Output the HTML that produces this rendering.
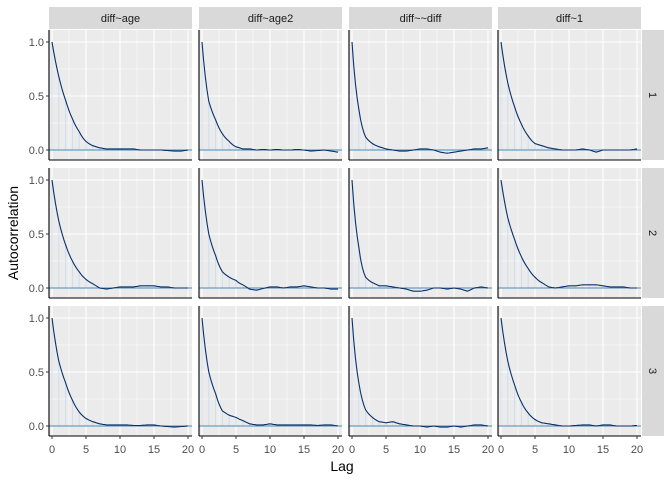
<!DOCTYPE html>
<html><head><meta charset="utf-8"><style>
body{margin:0;background:#fff}
svg{display:block;font-family:"Liberation Sans",Arial,sans-serif}
</style></head><body>
<svg id="s" width="672" height="480" xmlns="http://www.w3.org/2000/svg"></svg>
<script>
const s=document.getElementById('s');
let h='';
const px=[49,199,349,498], pw=143;
const py=[30,168,306], ph=130;
const cols=['diff~age','diff~age2','diff~~diff','diff~1'];
const data=[
[[1,.68,.46,.29,.17,.08,.04,.02,.01,.01,.01,.01,.01,0,0,0,0,-.005,-.01,-.01,0],
 [1,.45,.28,.15,.08,.03,.01,.01,0,.005,0,.005,0,0,.005,0,-.01,-.005,0,-.01,-.02],
 [1,.38,.12,.06,.03,.01,0,-.01,-.01,0,.01,.01,0,-.02,-.03,-.02,-.01,0,.01,.01,.02],
 [1,.62,.4,.24,.13,.06,.04,.02,.01,0,0,0,.01,0,-.02,0,0,0,0,0,.01]],
[[1,.62,.4,.25,.15,.08,.04,0,-.01,0,.01,.01,.01,.02,.02,.02,.01,.01,0,0,0],
 [1,.5,.3,.15,.1,.07,.03,-.01,-.02,-.005,.01,.01,0,.01,.01,.02,.01,0,0,-.01,-.01],
 [1,.38,.1,.05,.02,.02,.01,0,-.01,-.03,-.03,-.02,0,0,-.01,0,-.01,-.03,0,.01,0],
 [1,.65,.45,.29,.18,.1,.05,.01,0,.01,.02,.02,.03,.03,.03,.02,.01,.01,.01,0,0]],
[[1,.6,.4,.24,.13,.07,.04,.02,.01,.01,.01,.01,.005,.005,.01,.01,0,-.005,-.01,-.005,0],
 [1,.5,.3,.14,.1,.08,.05,.02,.01,.01,.02,.01,.01,.01,.01,.01,.01,.005,.01,.01,0],
 [1,.4,.15,.08,.04,.03,.04,.02,.01,0,0,-.01,0,-.01,-.01,0,-.01,0,.01,.01,0],
 [1,.6,.38,.22,.12,.06,.03,.02,.01,0,0,.005,.01,.01,0,.01,.01,0,0,0,.005]]];
const X=(c,l)=>px[c]+3+l*6.8;
function Y(r,v){return py[r]+12+(1-v)*108;}
for(let c=0;c<4;c++){
 h+=`<rect x="${px[c]}" y="7" width="${pw}" height="22" fill="#D9D9D9"/>`;
 h+=`<text x="${px[c]+pw/2}" y="22" font-size="11" fill="#1A1A1A" text-anchor="middle">${cols[c]}</text>`;
 for(const l of [0,5,10,15,20]) h+=`<text x="${X(c,l)}" y="453" font-size="11" fill="#4D4D4D" text-anchor="middle">${l}</text>`;
 for(let r=0;r<3;r++){
  const x0=px[c],y0=py[r];
  h+=`<rect x="${x0}" y="${y0}" width="${pw}" height="${ph}" fill="#EBEBEB"/>`;
  for(const v of [.25,.75]) h+=`<line x1="${x0}" x2="${x0+pw}" y1="${Y(r,v)}" y2="${Y(r,v)}" stroke="#fff" stroke-width=".55"/>`;
  for(const l of [2.5,7.5,12.5,17.5]) h+=`<line x1="${X(c,l)}" x2="${X(c,l)}" y1="${y0}" y2="${y0+ph}" stroke="#fff" stroke-width=".55"/>`;
  for(const v of [0,.5,1]) h+=`<line x1="${x0}" x2="${x0+pw}" y1="${Y(r,v)}" y2="${Y(r,v)}" stroke="#fff" stroke-width="1.1"/>`;
  for(const l of [0,5,10,15,20]) h+=`<line x1="${X(c,l)}" x2="${X(c,l)}" y1="${y0}" y2="${y0+ph}" stroke="#fff" stroke-width="1.1"/>`;
  const d=data[r][c];
  for(let l=0;l<=20;l++) h+=`<line x1="${X(c,l)}" x2="${X(c,l)}" y1="${Y(r,0)}" y2="${Y(r,d[l])}" stroke="#C6DBEF" stroke-width="1" opacity=".8"/>`;
  h+=`<line x1="${x0}" x2="${x0+pw}" y1="${Y(r,0)}" y2="${Y(r,0)}" stroke="#4A8AB5" stroke-width="1.1"/>`;
  let pts=[];
  for(let l=0;l<20;l++){for(let k=0;k<4;k++){const t=k/4;
   let v;if(d[l]>0.05&&d[l+1]>0.005){v=d[l]*Math.pow(d[l+1]/d[l],t);}else v=d[l]+(d[l+1]-d[l])*t;
   pts.push(X(c,l+t).toFixed(1)+','+Y(r,v).toFixed(1));}}
  pts.push(X(c,20).toFixed(1)+','+Y(r,d[20]).toFixed(1));
  h+=`<polyline points="${pts.join(' ')}" fill="none" stroke="#08306B" stroke-width="1.1"/>`;
  h+=`<line x1="${x0}" x2="${x0}" y1="${y0}" y2="${y0+ph}" stroke="#000" stroke-width="1.1"/>`;
  h+=`<line x1="${x0}" x2="${x0+pw}" y1="${y0+ph}" y2="${y0+ph}" stroke="#000" stroke-width="1.1"/>`;
  if(r==2) for(const l of [0,5,10,15,20]) h+=`<line x1="${X(c,l)}" x2="${X(c,l)}" y1="${y0+ph}" y2="${y0+ph+3}" stroke="#333" stroke-width="1"/>`;
  if(c==0){for(const v of [0,.5,1]){h+=`<line x1="${x0-3}" x2="${x0}" y1="${Y(r,v)}" y2="${Y(r,v)}" stroke="#333"/>`;
   h+=`<text x="${x0-5}" y="${Y(r,v)+4}" font-size="11" fill="#4D4D4D" text-anchor="end">${v.toFixed(1)}</text>`;}}
 }
}
for(let r=0;r<3;r++){
 h+=`<rect x="642" y="${py[r]}" width="22" height="${ph}" fill="#D9D9D9"/>`;
 h+=`<text x="0" y="0" font-size="11" fill="#1A1A1A" text-anchor="middle" transform="translate(649 ${py[r]+ph/2}) rotate(90)">${r+1}</text>`;
}
h+=`<text x="342" y="471" font-size="14" fill="#000" text-anchor="middle">Lag</text>`;
h+=`<text x="0" y="0" font-size="14" fill="#000" text-anchor="middle" transform="translate(18 233) rotate(-90)">Autocorrelation</text>`;
s.innerHTML=h;
</script>
</body></html>
